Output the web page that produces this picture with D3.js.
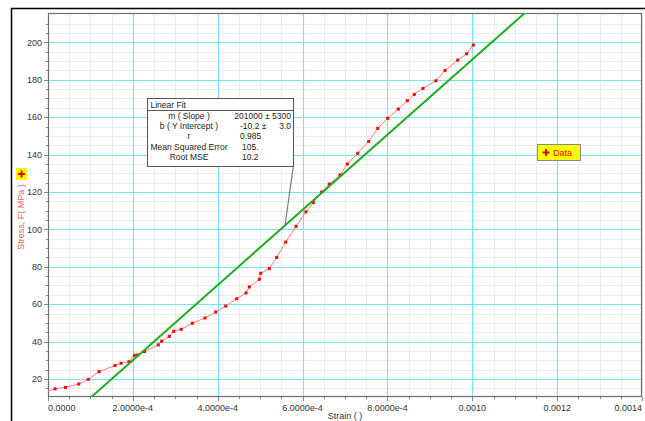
<!DOCTYPE html>
<html><head><meta charset="utf-8">
<script src="https://cdn.jsdelivr.net/npm/d3@7"></script>
<style>html,body{margin:0;padding:0;background:#fff;}svg{display:block;font-family:"Liberation Sans",Arial,sans-serif;}</style>
</head><body>
<svg id="c" width="645" height="421"></svg>
<script>
// data
const strain = [-0.00002,0.0000165,0.0000412,0.0000724,0.0000950,0.0001202,0.0001579,0.0001721,0.0001909,0.0002034,0.0002114,0.0002275,0.0002600,0.0002680,0.0002859,0.0002963,0.0003140,0.0003401,0.0003700,0.0003953,0.0004188,0.0004448,0.0004667,0.0004745,0.0004981,0.0005013,0.0005216,0.0005391,0.0005603,0.0005846,0.0006081,0.0006253,0.0006451,0.0006630,0.0006883,0.0007055,0.0007300,0.0007559,0.0007771,0.0008007,0.0008257,0.0008469,0.0008634,0.0008839,0.0009145,0.0009357,0.0009657,0.0009869,0.0010024];
const stress = [12.0,14.7,15.5,17.3,19.8,23.9,27.2,28.4,29.2,32.6,32.8,34.7,38.2,40.2,42.8,45.5,46.6,49.8,52.6,55.8,59.0,62.9,66.0,69.2,73.3,76.5,79.0,85.0,93.2,101.6,109.4,114.3,120.0,124.2,129.1,134.9,140.7,147.0,154.0,159.4,164.3,168.8,172.2,175.4,179.5,185.0,190.5,193.9,198.6];
const fitSlope = 201000, fitIntercept = -10.2;
const xTicks = [0,0.0002,0.0004,0.0006,0.0008,0.0010,0.0012,0.0014];
const xTickLabels = ["0.0000","2.0000e-4","4.0000e-4","6.0000e-4","8.0000e-4","0.0010","0.0012","0.0014"];
const yTicks = [20,40,60,80,100,120,140,160,180,200];
const fitLabels = ["m ( Slope )","b ( Y Intercept )","r","Mean Squared Error","Root MSE"];
const fitValues = ["201000 ± 5300","-10.2 ±","0.985","105.","10.2"];

const svg = d3.select("#c");
const L=48,R=642,T=13,B=397;
const x = d3.scaleLinear().domain([0,0.0014]).range([L,R]);
const y = d3.scaleLinear().domain([10.35,215.7]).range([B,T]);

// outer frame
svg.append("line").attr("x1",11).attr("x2",645).attr("y1",8.5).attr("y2",8.5).attr("stroke","#000").attr("stroke-width",1.5);
svg.append("line").attr("x1",11.5).attr("x2",11.5).attr("y1",8).attr("y2",421).attr("stroke","#000").attr("stroke-width",1.5);

svg.append("defs").append("clipPath").attr("id","pc").append("rect").attr("x",L).attr("y",T).attr("width",R-L).attr("height",B-T);
const g = svg.append("g");
// minor grid
const xMinor = d3.range(0,0.00141,0.00005);
const yMinor = d3.range(15,215,5);
g.selectAll(".vm").data(xMinor).join("line").attr("x1",d=>Math.round(x(d))+0.5).attr("x2",d=>Math.round(x(d))+0.5).attr("y1",T).attr("y2",B).attr("stroke","#ebebeb");
g.selectAll(".hm").data(yMinor).join("line").attr("y1",d=>Math.round(y(d))+0.5).attr("y2",d=>Math.round(y(d))+0.5).attr("x1",L).attr("x2",R).attr("stroke","#ebebeb");
// major grid
g.selectAll(".vM").data(xTicks.slice(1,-1)).join("line").attr("x1",d=>Math.round(x(d))+0.5).attr("x2",d=>Math.round(x(d))+0.5).attr("y1",T).attr("y2",B).attr("stroke","#74e4ee").attr("stroke-width",1.1);
g.selectAll(".hM").data(yTicks).join("line").attr("y1",d=>Math.round(y(d))+0.5).attr("y2",d=>Math.round(y(d))+0.5).attr("x1",L).attr("x2",R).attr("stroke","#74e4ee").attr("stroke-width",1.1);

// ticks
g.selectAll(".xt").data(xMinor).join("line").attr("x1",d=>Math.round(x(d))+0.5).attr("x2",d=>Math.round(x(d))+0.5).attr("y1",B).attr("y2",(d,i)=>B+(i%4===0?4:2)).attr("stroke","#888");
g.selectAll(".yt").data(yMinor).join("line").attr("y1",d=>Math.round(y(d))+0.5).attr("y2",d=>Math.round(y(d))+0.5).attr("x1",L).attr("x2",d=>L-(d%20===0?4:2)).attr("stroke","#888");

// frame
svg.append("rect").attr("x",L+0.5).attr("y",T+0.5).attr("width",R-L-1).attr("height",B-T-1).attr("fill","none").attr("stroke","#6e6e6e").attr("stroke-width",1.2);

// tick labels
svg.selectAll(".xl").data(xTicks).join("text")
  .attr("x",(d,i)=> i===0? L : (i===xTicks.length-1? R : x(d)))
  .attr("text-anchor",(d,i)=> i===0?"start":(i===xTicks.length-1?"end":"middle"))
  .attr("y",411).attr("font-size",9).attr("fill","#333").text((d,i)=>xTickLabels[i]);
svg.selectAll(".yl").data(yTicks).join("text").attr("x",42).attr("y",d=>y(d)+3.2).attr("text-anchor","end").attr("font-size",9).attr("fill","#333").text(d=>d);

svg.append("text").attr("x",(L+R)/2).attr("y",419).attr("text-anchor","middle").attr("font-size",9).attr("fill","#333").text("Strain ( )");
svg.append("text").attr("transform","translate(24,217) rotate(-90)").attr("text-anchor","middle").attr("font-size",9).attr("fill","#f45a5a").text("Stress, F( MPa )");
// y title icon
svg.append("rect").attr("x",16).attr("y",168).attr("width",11).attr("height",12).attr("fill","#ffff00");
svg.append("path").attr("d","M21.5,170.5v7M18,174h7").attr("stroke","#ee0000").attr("stroke-width",2);

// plot content
const pg = svg.append("g").attr("clip-path","url(#pc)");
const pts = strain.map((s,i)=>[s,stress[i]]);
pg.append("path").attr("d",d3.line().x(d=>x(d[0])).y(d=>y(d[1]))(pts)).attr("fill","none").attr("stroke","#ff7a7a").attr("stroke-width",1);
pg.selectAll(".pt").data(pts).join("rect").attr("x",d=>x(d[0])-1.5).attr("y",d=>y(d[1])-1.5).attr("width",3).attr("height",3).attr("fill","#ff0000");
const fx = [0,0.0014];
pg.append("line").attr("x1",x(fx[0])).attr("y1",y(fitSlope*fx[0]+fitIntercept)).attr("x2",x(fx[1])).attr("y2",y(fitSlope*fx[1]+fitIntercept)).attr("stroke","#1fae1f").attr("stroke-width",2);

// annotation
const ax = 0.0005586;
svg.append("line").attr("x1",293.3).attr("y1",166.5).attr("x2",x(ax)).attr("y2",y(fitSlope*ax+fitIntercept)).attr("stroke","#777").attr("stroke-width",1.2);
svg.append("rect").attr("x",147.5).attr("y",98.5).attr("width",146).attr("height",68).attr("fill","#fff").attr("stroke","#555");
svg.append("line").attr("x1",147.5).attr("x2",293.5).attr("y1",110.5).attr("y2",110.5).attr("stroke","#555");
svg.append("text").attr("x",150.5).attr("y",108).attr("font-size",8.5).attr("fill","#222").text("Linear Fit");
fitLabels.forEach((t,i)=>{
  const yy = 118.5 + i*10.4;
  svg.append("text").attr("x",189).attr("y",yy).attr("text-anchor","middle").attr("font-size",8.5).attr("fill","#222").text(t);
});
svg.append("text").attr("x",291).attr("y",118.5).attr("text-anchor","end").attr("font-size",8.5).attr("fill","#222").text(fitValues[0]);
svg.append("text").attr("x",240).attr("y",128.9).attr("font-size",8.5).attr("fill","#222").text(fitValues[1]);
svg.append("text").attr("x",291).attr("y",128.9).attr("text-anchor","end").attr("font-size",8.5).attr("fill","#222").text("3.0");
[2,3,4].forEach(i=>{
  svg.append("text").attr("x",i===2?240:242).attr("y",118.5+i*10.4).attr("font-size",8.5).attr("fill","#222").text(fitValues[i]);
});

// legend
svg.append("rect").attr("x",537.5).attr("y",144.5).attr("width",43).attr("height",16).attr("fill","#ffff00").attr("stroke","#888");
svg.append("path").attr("d","M546,149v7M542.5,152.5h7").attr("stroke","#ee0000").attr("stroke-width",2);
svg.append("text").attr("x",553).attr("y",156).attr("font-size",9).attr("fill","#ee0000").text("Data");
</script>
</body></html>
